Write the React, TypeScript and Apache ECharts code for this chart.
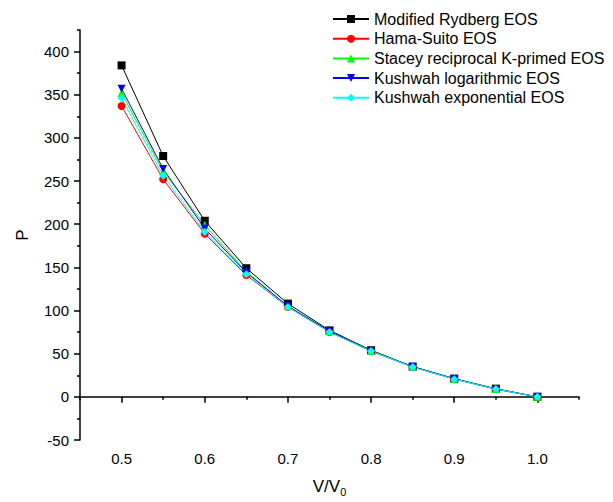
import React, { useEffect, useRef } from "react";
import * as echarts from "echarts";

const xValues = [0.5, 0.55, 0.6, 0.65, 0.7, 0.75, 0.8, 0.85, 0.9, 0.95, 1.0];
const rydberg = [384, 279, 204, 149, 108, 77, 54, 35, 21, 9.5, 0];
const hamaSuito = [337, 252, 189, 141, 104, 75, 53, 34.5, 20.5, 9, 0];
const stacey = [352, 261, 199, 145, 105, 76, 53, 35, 21, 9, 0];
const kushwahLog = [357, 264, 195, 144, 105, 76, 53, 35, 21, 9, 0];
const kushwahExp = [346, 256, 191, 142, 104, 75, 53, 34.5, 20.5, 9, 0];

const seriesNames = [
  "Modified Rydberg EOS",
  "Hama-Suito EOS",
  "Stacey reciprocal K-primed EOS",
  "Kushwah logarithmic EOS",
  "Kushwah exponential EOS",
];
const seriesColors = ["#000000", "#ff0000", "#00ff00", "#0000ff", "#00ffff"];
const seriesSymbols = ["rect", "circle", "triangle", "path://M0,0 L10,0 L5,9 Z", "diamond"];
const seriesData = [rydberg, hamaSuito, stacey, kushwahLog, kushwahExp];

const xMajor = [0.5, 0.6, 0.7, 0.8, 0.9, 1.0];
const xMinor = [0.45, 0.55, 0.65, 0.75, 0.85, 0.95, 1.05];
const yMajor = [-50, 0, 50, 100, 150, 200, 250, 300, 350, 400];
const yMinor = [-25, 25, 75, 125, 175, 225, 275, 325, 375, 425];

const FONT = "Liberation Sans, Arial, Helvetica, sans-serif";

export default function App() {
  const ref = useRef<HTMLDivElement>(null);
  useEffect(() => {
    document.body.style.margin = "0";
    if (!ref.current) return;
    const chart = echarts.init(ref.current, undefined, { renderer: "svg" });
    const axisLine = { show: true, lineStyle: { color: "#000", width: 1.5 } };
    chart.setOption({
      animation: false,
      backgroundColor: "#fff",
      textStyle: { fontFamily: FONT },
      grid: { left: 80, right: 34, top: 30, bottom: 61, containLabel: false },
      legend: {
        orient: "vertical",
        left: 327,
        top: 6,
        itemWidth: 36,
        itemHeight: 10,
        itemGap: 3.7,
        textStyle: { fontSize: 16, color: "#000", fontFamily: FONT },
        data: seriesNames,
      },
      xAxis: [
        {
          type: "value",
          min: 0.45,
          max: 1.05,
          position: "bottom",
          name: "{a|V/V}{b|0}",
          nameLocation: "middle",
          nameGap: 36,
          nameTextStyle: {
            rich: {
              a: { fontSize: 17, color: "#000", fontFamily: FONT },
              b: { fontSize: 11, color: "#000", fontFamily: FONT, padding: [10, 0, 0, 0] },
            },
          },
          axisLine,
          axisTick: { show: true, inside: false, length: 6, customValues: xMajor, lineStyle: { color: "#000", width: 1.5 } },
          axisLabel: {
            customValues: xMajor,
            formatter: (v: number) => v.toFixed(1),
            fontSize: 15,
            color: "#000",
            margin: 11,
            fontFamily: FONT,
          },
          splitLine: { show: false },
        },
        {
          type: "value",
          min: 0.45,
          max: 1.05,
          position: "bottom",
          axisLine: { show: false },
          axisTick: { show: true, inside: false, length: 3, customValues: xMinor, lineStyle: { color: "#000", width: 1.5 } },
          axisLabel: { show: false },
          splitLine: { show: false },
        },
      ],
      yAxis: [
        {
          type: "value",
          min: -50,
          max: 425,
          position: "left",
          name: "P",
          nameLocation: "middle",
          nameGap: 49,
          nameTextStyle: { fontSize: 17, color: "#000", fontFamily: FONT },
          axisLine,
          axisTick: { show: true, inside: false, length: 6, customValues: yMajor, lineStyle: { color: "#000", width: 1.5 } },
          axisLabel: { customValues: yMajor, fontSize: 15, color: "#000", margin: 11, fontFamily: FONT },
          splitLine: { show: false },
        },
        {
          type: "value",
          min: -50,
          max: 425,
          position: "left",
          axisLine: { show: false },
          axisTick: { show: true, inside: false, length: 3, customValues: yMinor, lineStyle: { color: "#000", width: 1.5 } },
          axisLabel: { show: false },
          splitLine: { show: false },
        },
      ],
      series: seriesNames.map((name, i) => ({
        name,
        type: "line",
        xAxisIndex: 0,
        yAxisIndex: 0,
        data: xValues.map((x, j) => [x, seriesData[i][j]]),
        symbol: seriesSymbols[i],
        symbolSize: 8,
        showSymbol: true,
        lineStyle: { color: seriesColors[i], width: 1 },
        itemStyle: { color: seriesColors[i] },
        emphasis: { disabled: true },
      })),
    });
    return () => chart.dispose();
  }, []);
  return <div ref={ref} style={{ width: 613, height: 502 }} />;
}
